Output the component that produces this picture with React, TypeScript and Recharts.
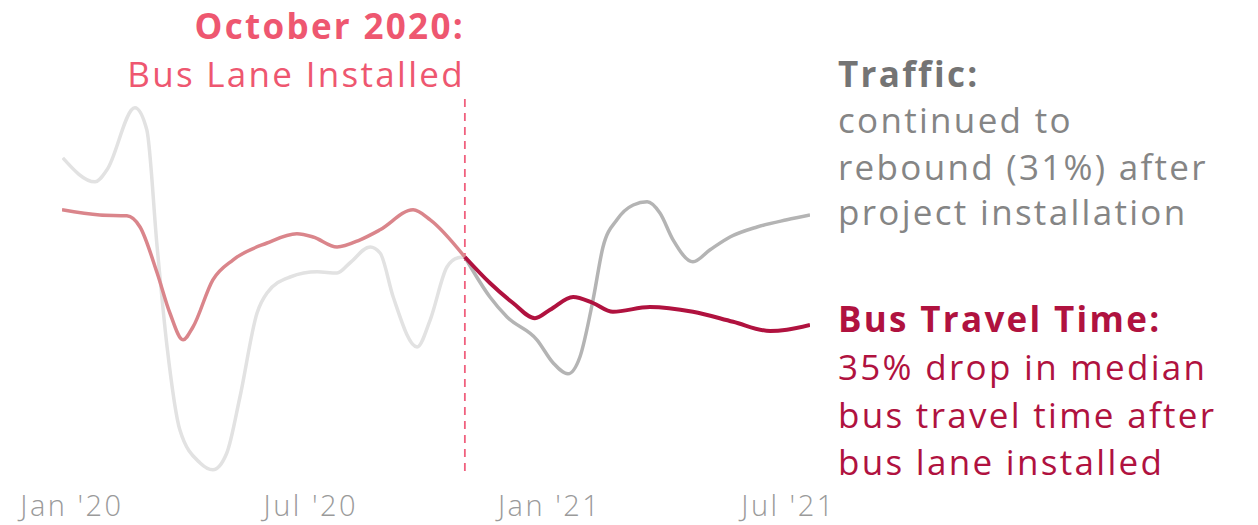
import React from "react";
import { LineChart, Line, XAxis, YAxis, ReferenceLine, Customized } from "recharts";

// x = months since Jan 2020, y = relative index (0-100)
const trafficBefore = [
  { m: -0.23, v: 79.3 }, { m: 0.58, v: 73.3 }, { m: 0.88, v: 76.3 }, { m: 1.58, v: 91.8 },
  { m: 1.88, v: 86.3 }, { m: 2.14, v: 57 }, { m: 2.39, v: 32 }, { m: 2.71, v: 11.3 },
  { m: 3.22, v: 3 }, { m: 3.54, v: 1.3 }, { m: 3.89, v: 5.5 }, { m: 4.22, v: 19.5 },
  { m: 4.65, v: 40.5 }, { m: 4.9, v: 45.5 }, { m: 5.48, v: 49.5 }, { m: 6.16, v: 50.8 },
  { m: 6.66, v: 50.5 }, { m: 6.98, v: 53 }, { m: 7.49, v: 57 }, { m: 7.74, v: 55.5 },
  { m: 8.07, v: 44.5 }, { m: 8.67, v: 32 }, { m: 9.0, v: 38.8 }, { m: 9.42, v: 52 },
  { m: 9.7, v: 54.3 }, { m: 9.87, v: 54.5 },
];
const trafficAfter = [
  { m: 9.87, v: 54.5 }, { m: 10.5, v: 44.5 }, { m: 10.93, v: 39.5 }, { m: 11.68, v: 33.8 },
  { m: 12.09, v: 28 }, { m: 12.46, v: 25.3 }, { m: 12.76, v: 29.5 }, { m: 13.09, v: 43.8 },
  { m: 13.34, v: 57 }, { m: 13.69, v: 63.8 }, { m: 14.1, v: 67.5 }, { m: 14.45, v: 68.3 },
  { m: 14.77, v: 65.5 }, { m: 15.1, v: 58.8 }, { m: 15.6, v: 53.3 }, { m: 16.03, v: 56.3 },
  { m: 16.53, v: 59.5 }, { m: 17.21, v: 62 }, { m: 17.96, v: 63.8 }, { m: 18.54, v: 65 },
];
const busBefore = [
  { m: -0.25, v: 66.3 }, { m: 0.7, v: 65 }, { m: 1.38, v: 64.8 }, { m: 1.71, v: 62 },
  { m: 2.14, v: 50.5 }, { m: 2.46, v: 40.5 }, { m: 2.79, v: 33.8 }, { m: 3.04, v: 37 },
  { m: 3.54, v: 48.8 }, { m: 4.05, v: 53.8 }, { m: 4.9, v: 58 }, { m: 5.65, v: 60.3 },
  { m: 6.06, v: 59.5 }, { m: 6.66, v: 57 }, { m: 7.24, v: 58.8 }, { m: 7.74, v: 61.3 },
  { m: 8.57, v: 66.3 }, { m: 9.0, v: 63.8 }, { m: 9.87, v: 54.5 },
];
const busAfter = [
  { m: 9.87, v: 54.5 }, { m: 10.5, v: 48 }, { m: 11.08, v: 43 }, { m: 11.63, v: 39.2 },
  { m: 12.01, v: 41.3 }, { m: 12.59, v: 44.5 }, { m: 13.09, v: 43 }, { m: 13.59, v: 40.8 },
  { m: 14.52, v: 42 }, { m: 15.6, v: 40.8 }, { m: 16.61, v: 38.3 }, { m: 17.54, v: 36 },
  { m: 17.96, v: 36.3 }, { m: 18.54, v: 37.5 },
];
const tickValues = [0, 6, 12, 18];
const tickLabels = ["Jan '20", "Jul '20", "Jan '21", "Jul '21"];
const installMonth = 9.87;

const FONT = "'Open Sans', 'Noto Sans', sans-serif";
const LS = 2.3;
const FS = 35;

const Tick = (props: any) => {
  const { x, payload } = props;
  const i = tickValues.indexOf(payload.value);
  return (
    <text x={x} y={516} textAnchor="middle" fontFamily={FONT} fontWeight={300} fontSize={29} letterSpacing={2.5} fill="#9a9a9a">
      {tickLabels[i]}
    </text>
  );
};

const Annotations = () => (
  <g fontFamily={FONT} letterSpacing={LS} fontSize={FS}>
    <text x={465} y={39} textAnchor="end" fontWeight={700} fill="#EE5770">October 2020:</text>
    <text x={465} y={87} textAnchor="end" fill="#EE5770">Bus Lane Installed</text>
    <text x={838} y={87} fontWeight={700} fill="#747474">Traffic:</text>
    <text x={838} y={133} fill="#858585">continued to</text>
    <text x={838} y={180} fill="#858585">rebound (31%) after</text>
    <text x={838} y={225} fill="#858585">project installation</text>
    <text x={838} y={332} fontWeight={700} fill="#B0123F">Bus Travel Time:</text>
    <text x={838} y={380} fill="#B0123F">35% drop in median</text>
    <text x={838} y={428} fill="#B0123F">bus travel time after</text>
    <text x={838} y={475} fill="#B0123F">bus lane installed</text>
  </g>
);

export default function App() {
  return (
    <div>
      <style>{`body{margin:0;background:#fff}`}</style>
      <LineChart width={1258} height={525} margin={{ top: 75, right: 448, bottom: 0, left: 62 }}>
        <XAxis
          type="number"
          dataKey="m"
          domain={[-0.25, 18.54]}
          allowDataOverflow
          ticks={tickValues}
          tick={<Tick />}
          axisLine={false}
          tickLine={false}
          height={50}
        />
        <YAxis type="number" dataKey="v" domain={[0, 100]} hide />
        <ReferenceLine
          segment={[{ x: installMonth, y: 1 }, { x: installMonth, y: 95 }]}
          stroke="#F0607E"
          strokeWidth={1.8}
          strokeDasharray="8 6"
        />
        <Line data={trafficBefore} dataKey="v" type="monotone" stroke="#e2e2e2" strokeWidth={3.5} dot={false} isAnimationActive={false} />
        <Line data={trafficAfter} dataKey="v" type="monotone" stroke="#b4b4b4" strokeWidth={3.5} dot={false} isAnimationActive={false} />
        <Line data={busBefore} dataKey="v" type="monotone" stroke="#DA858B" strokeWidth={3.5} dot={false} isAnimationActive={false} />
        <Line data={busAfter} dataKey="v" type="monotone" stroke="#B0123F" strokeWidth={4} dot={false} isAnimationActive={false} />
        <Customized component={Annotations} />
      </LineChart>
    </div>
  );
}
